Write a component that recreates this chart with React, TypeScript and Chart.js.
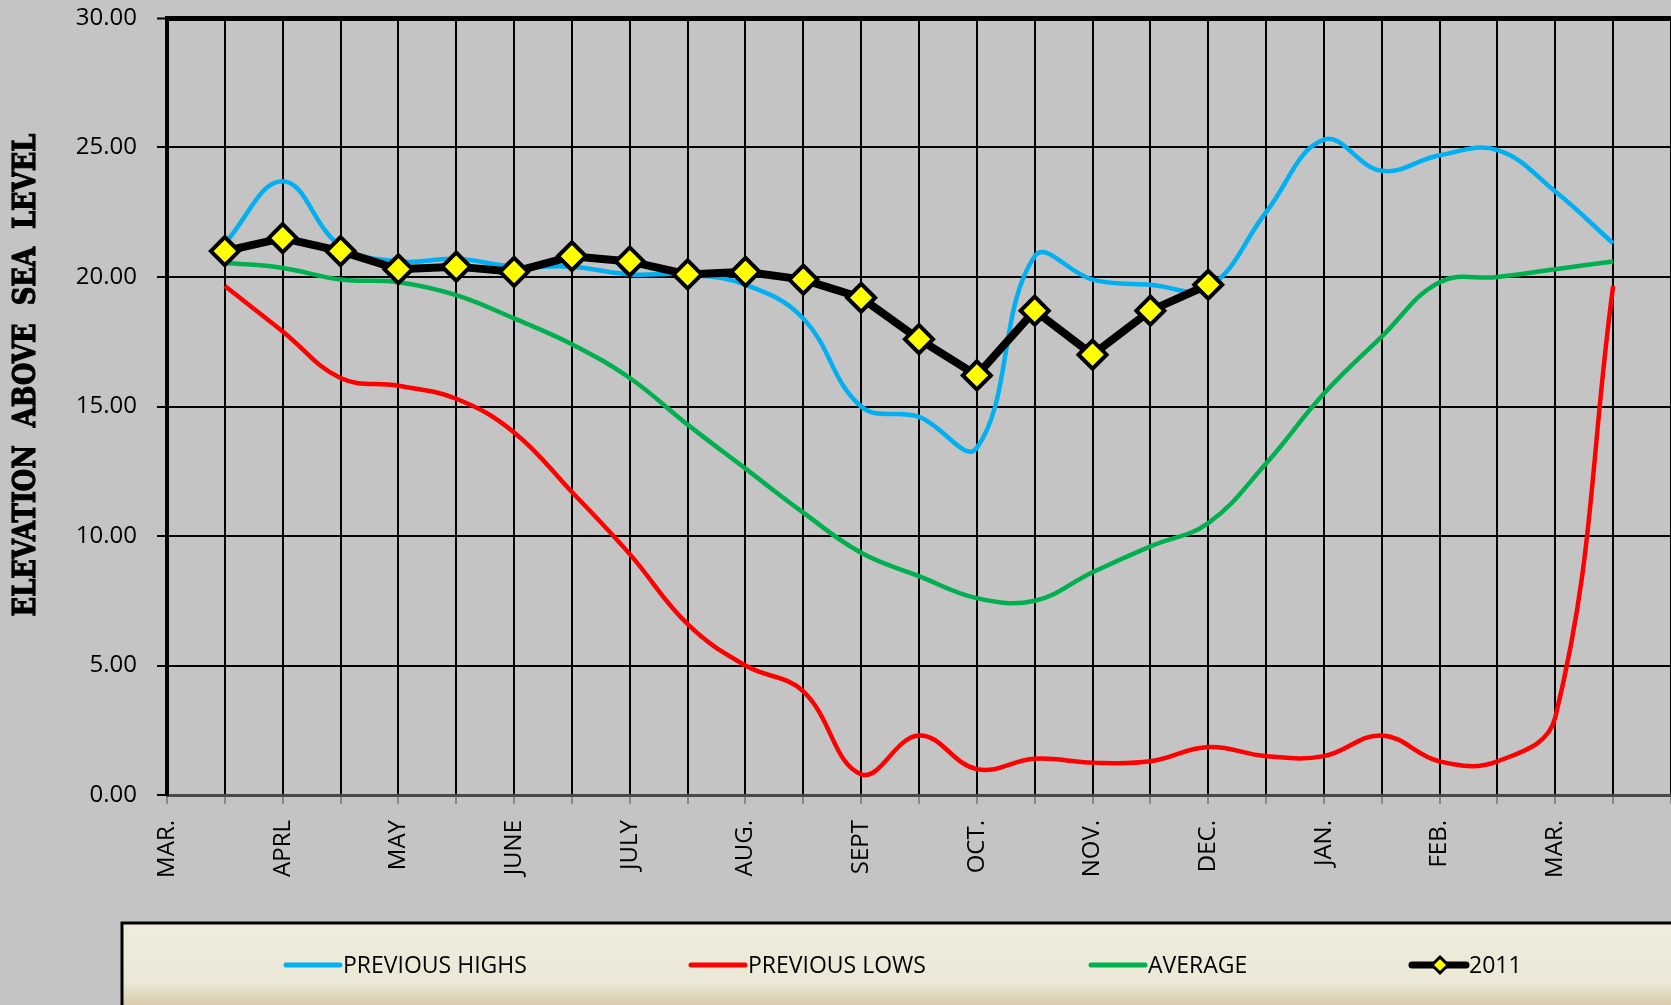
import React, { useEffect, useRef } from 'react';
import { Chart, registerables } from 'chart.js';

Chart.register(...registerables);

const categories = [
  'MAR.', '', 'APRL', '', 'MAY', '', 'JUNE', '', 'JULY', '', 'AUG.', '', 'SEPT', '',
  'OCT.', '', 'NOV.', '', 'DEC.', '', 'JAN.', '', 'FEB.', '', 'MAR.', '', '',
];

const previousHighs = [
  null, 21.3, 23.7, 21.2, 20.6, 20.7, 20.4, 20.4, 20.1, 20.1, 19.7, 18.4, 15.0, 14.6,
  13.4, 20.8, 19.9, 19.7, 19.6, 22.5, 25.3, 24.1, 24.7, 24.9, 23.3, 21.3, null,
];

const previousLows = [
  null, 19.65, 17.9, 16.1, 15.8, 15.3, 14.0, 11.7, 9.3, 6.6, 5.0, 4.0, 0.8, 2.3,
  1.0, 1.4, 1.25, 1.3, 1.85, 1.5, 1.5, 2.3, 1.3, 1.3, 3.0, 19.65, null,
];

const average = [
  null, 20.55, 20.35, 19.9, 19.8, 19.3, 18.4, 17.4, 16.1, 14.3, 12.6, 10.9, 9.35, 8.45,
  7.6, 7.5, 8.6, 9.6, 10.5, 12.8, 15.5, 17.7, 19.8, 20.0, 20.3, 20.6, null,
];

const year2011 = [
  null, 21.0, 21.5, 21.0, 20.3, 20.4, 20.2, 20.8, 20.6, 20.1, 20.2, 19.9, 19.2, 17.6,
  16.2, 18.7, 17.0, 18.7, 19.7, null, null, null, null, null, null, null, null,
];

const yTicks = [0, 5, 10, 15, 20, 25, 30];
const yTitle = 'ELEVATION  ABOVE  SEA  LEVEL';
const legendLabels = ['PREVIOUS HIGHS', 'PREVIOUS LOWS', 'AVERAGE', '2011'];

const W = 1671;
const H = 1005;
const BG = '#c4c4c4';
const FONT = '"Open Sans", "Noto Sans", sans-serif';

const bgPlugin = {
  id: 'bgFill',
  beforeDraw(chart: any) {
    const ctx = chart.ctx;
    ctx.save();
    ctx.fillStyle = BG;
    ctx.fillRect(0, 0, chart.width, chart.height);
    ctx.restore();
  },
};

const decorPlugin = {
  id: 'decor',
  afterDraw(chart: any) {
    const ctx = chart.ctx;
    ctx.save();
    // Y axis title
    ctx.font = 'bold 31px "DejaVu Serif", "Liberation Serif", serif';
    const tw = ctx.measureText(yTitle).width;
    const target = 483;
    ctx.translate(27, 375);
    ctx.rotate(-Math.PI / 2);
    ctx.scale(target / tw, 1);
    ctx.fillStyle = '#000';
    ctx.strokeStyle = '#000';
    ctx.lineWidth = 1.2;
    ctx.textAlign = 'center';
    ctx.textBaseline = 'middle';
    ctx.fillText(yTitle, 0, 0);
    ctx.strokeText(yTitle, 0, 0);
    ctx.restore();

    // Legend box
    ctx.save();
    const top = 923;
    const left = 122;
    const grad = ctx.createLinearGradient(0, top, 0, H);
    grad.addColorStop(0, '#efecdd');
    grad.addColorStop(0.72, '#ece8d6');
    grad.addColorStop(1, '#d6cbad');
    ctx.fillStyle = grad;
    ctx.fillRect(left, top, W - left, H - top);
    ctx.strokeStyle = '#000';
    ctx.lineWidth = 3;
    ctx.beginPath();
    ctx.moveTo(left, H + 5);
    ctx.lineTo(left, top);
    ctx.lineTo(W + 5, top);
    ctx.stroke();

    const cy = 965;
    const starts = [286, 691, 1091, 1412];
    const datasets = chart.data.datasets;
    const order = [1, 2, 3, 0];
    ctx.font = '23px ' + FONT;
    ctx.textBaseline = 'middle';
    ctx.textAlign = 'left';
    starts.forEach((sx, i) => {
      const ds = datasets[order[i]];
      ctx.strokeStyle = ds.borderColor;
      ctx.lineWidth = i === 3 ? 7 : 5;
      ctx.lineCap = 'round';
      ctx.beginPath();
      ctx.moveTo(sx, cy);
      ctx.lineTo(sx + 54, cy);
      ctx.stroke();
      if (i === 3) {
        const mx = sx + 28;
        const r = 8;
        ctx.beginPath();
        ctx.moveTo(mx, cy - r);
        ctx.lineTo(mx + r, cy);
        ctx.lineTo(mx, cy + r);
        ctx.lineTo(mx - r, cy);
        ctx.closePath();
        ctx.fillStyle = '#ffff00';
        ctx.fill();
        ctx.lineWidth = 3;
        ctx.strokeStyle = '#000';
        ctx.stroke();
      }
      ctx.fillStyle = '#000';
      ctx.fillText(legendLabels[i], sx + 57, cy + 1);
    });
    ctx.restore();
  },
};

export default function App() {
  const ref = useRef<HTMLCanvasElement | null>(null);

  useEffect(() => {
    if (!ref.current) return;
    const chart = new Chart(ref.current, {
      type: 'line',
      data: {
        labels: categories,
        datasets: [
          {
            label: legendLabels[3],
            data: year2011,
            borderColor: '#000000',
            borderWidth: 8,
            backgroundColor: '#ffff00',
            pointStyle: 'rectRot',
            pointRadius: 14,
            pointBorderWidth: 4,
            pointBorderColor: '#000000',
            pointBackgroundColor: '#ffff00',
            tension: 0,
            order: 0,
          },
          {
            label: legendLabels[0],
            data: previousHighs,
            borderColor: '#00b0f0',
            borderWidth: 4.5,
            pointRadius: 0,
            tension: 0.4,
            order: 1,
          },
          {
            label: legendLabels[1],
            data: previousLows,
            borderColor: '#ff0000',
            borderWidth: 4.5,
            pointRadius: 0,
            tension: 0.4,
            order: 2,
          },
          {
            label: legendLabels[2],
            data: average,
            borderColor: '#00b050',
            borderWidth: 4.5,
            pointRadius: 0,
            tension: 0.4,
            order: 3,
          },
        ],
      },
      options: {
        responsive: false,
        animation: false,
        layout: { autoPadding: false, padding: { top: 18, left: 0, right: 0, bottom: 0 } },
        plugins: {
          legend: { display: false },
          tooltip: { enabled: false },
        },
        scales: {
          x: {
            type: 'category',
            offset: false,
            afterFit(scale: any) {
              scale.height = 210;
              scale.paddingLeft = 0;
              scale.paddingRight = 0;
            },
            grid: {
              color: '#000',
              lineWidth: 2,
              tickColor: '#8a8a8a',
              tickLength: 9,
              tickWidth: 2,
            },
            border: { color: '#4a4a4a', width: 3 },
            ticks: {
              autoSkip: false,
              maxRotation: 90,
              minRotation: 90,
              padding: 16,
              color: '#000',
              font: { family: FONT, size: 24 },
            },
          },
          y: {
            min: 0,
            max: 30,
            afterFit(scale: any) {
              scale.width = 167;
              scale.paddingTop = 0;
              scale.paddingBottom = 0;
            },
            afterBuildTicks(scale: any) {
              scale.ticks = yTicks.map((v) => ({ value: v }));
            },
            grid: {
              color: '#000',
              lineWidth: (c: any) => (c.tick && c.tick.value === 30 ? 5 : 2),
              tickColor: '#000',
              tickLength: 10,
              tickWidth: 2,
            },
            border: { color: '#000', width: 4 },
            ticks: {
              padding: 20,
              color: '#000',
              font: { family: FONT, size: 24 },
              callback: (v: any) => Number(v).toFixed(2),
            },
          },
        },
      },
      plugins: [bgPlugin, decorPlugin],
    } as any);
    return () => chart.destroy();
  }, []);

  return (
    <div style={{ position: 'fixed', left: 0, top: 0, width: W, height: H, background: BG }}>
      <canvas ref={ref} width={W} height={H} style={{ display: 'block', width: W, height: H }} />
    </div>
  );
}
